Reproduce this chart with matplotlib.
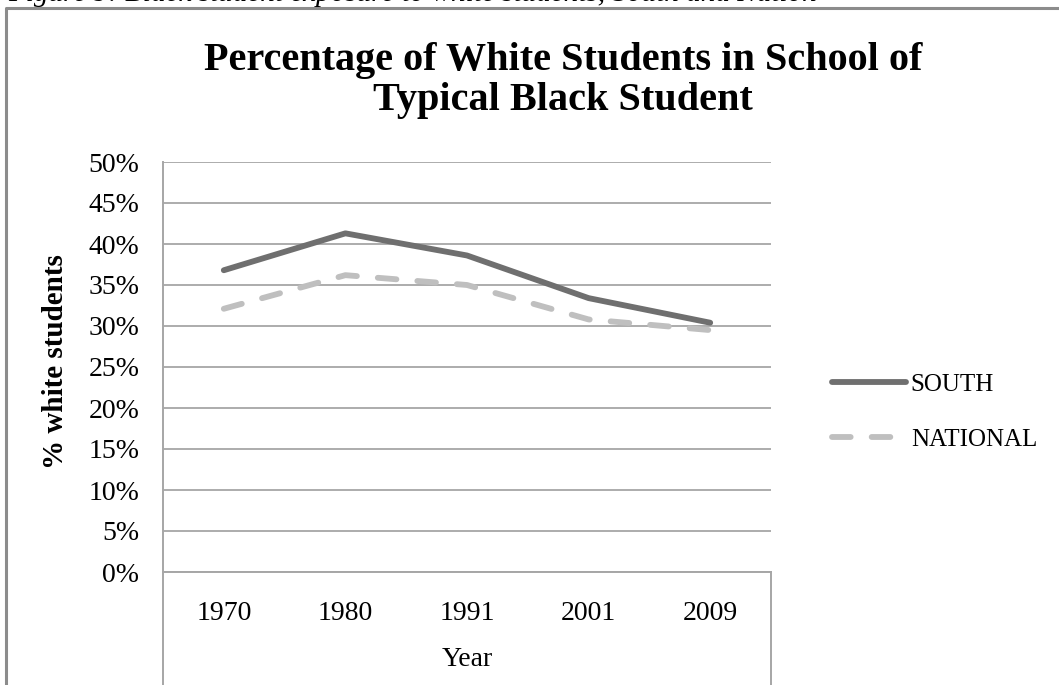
import numpy as np
import matplotlib
matplotlib.use("Agg")
import matplotlib.pyplot as plt
from matplotlib.lines import Line2D
from matplotlib.ticker import PercentFormatter

# data
years = ["1970", "1980", "1991", "2001", "2009"]
south = [36.8, 41.3, 38.6, 33.4, 30.4]
national = [32.1, 36.2, 35.0, 30.8, 29.5]

plt.rcParams['font.family'] = ['Liberation Serif', 'DejaVu Serif']

W, H = 1059, 685
fig = plt.figure(figsize=(W / 100, H / 100), dpi=100)

def fx(px):
    return px / W

def fy(py):
    return 1 - py / H

ax = fig.add_axes([fx(163), fy(572), fx(771) - fx(163), fy(162) - fy(572)])

x = np.arange(len(years))
ax.plot(x, np.array(south) / 100, color='#6f6f6f', lw=4.2,
        solid_capstyle='round', solid_joinstyle='round', label='SOUTH', zorder=3)
ax.plot(x, np.array(national) / 100, color='#bfbfbf', lw=4.2,
        dashes=(3.2, 3.6), dash_capstyle='round', label='NATIONAL', zorder=2)

ax.set_xlim(-0.5, len(years) - 0.5)
ax.set_ylim(0, 0.5)
ax.set_yticks(np.arange(0, 0.51, 0.05))
ax.yaxis.set_major_formatter(PercentFormatter(1.0, decimals=0))
ax.set_xticks(x)
ax.set_xticklabels(years)
ax.grid(axis='y', color='#a6a6a6', lw=1.3)
ax.set_axisbelow(True)
ax.tick_params(axis='y', length=0, labelsize=20, pad=17)
ax.tick_params(axis='x', length=0, labelsize=20, pad=21)

for s in ['top', 'right']:
    ax.spines[s].set_visible(False)
ax.spines['left'].set_color('#a6a6a6')
ax.spines['left'].set_linewidth(1.4)
ax.spines['bottom'].set_color('#a6a6a6')
ax.spines['bottom'].set_linewidth(1.4)

# axis line and category border continue down past the plot
ax.plot([0, 0], [0, -0.35], transform=ax.transAxes, color='#a6a6a6',
        lw=1.4, clip_on=False)
ax.plot([1, 1], [0, -0.35], transform=ax.transAxes, color='#a6a6a6',
        lw=1.4, clip_on=False)

fig.text(fx(467), fy(660), "Year", ha='center', va='center', fontsize=20)
fig.text(fx(56), fy(362), "% white students", ha='center', va='center',
         rotation=90, fontsize=21, fontweight='bold')

fig.text(fx(563), fy(70), "Percentage of White Students in School of",
         ha='center', va='baseline', fontsize=29, fontweight='bold')
fig.text(fx(563), fy(110), "Typical Black Student",
         ha='center', va='baseline', fontsize=29, fontweight='bold')

fig.legend(loc='center left', bbox_to_anchor=(fx(832), fy(412)),
           frameon=False, fontsize=18, handlelength=2.95, handletextpad=0.2,
           labelspacing=1.3, borderpad=0, borderaxespad=0)

# outer chart frame (right and bottom edges cut off)
fig.add_artist(Line2D([fx(6), fx(6), 1.0], [0.0, fy(8), fy(8)],
                      color='#8c8c8c', lw=2.2))

# caption above, mostly cut off by the crop
fig.text(fx(8), fy(0.7),
         "Figure 9: Black student exposure to white students, South and Nation",
         ha='left', va='baseline', fontsize=21, fontstyle='italic')

fig.savefig("out.png", dpi=100)
